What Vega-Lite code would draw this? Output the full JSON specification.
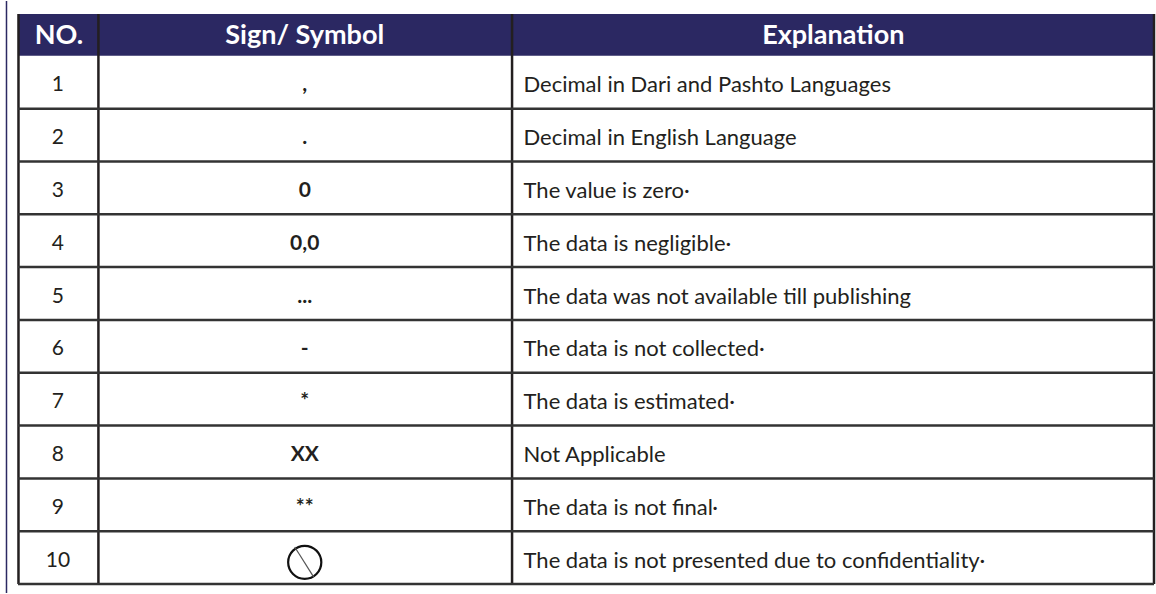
{"$schema":"https://vega.github.io/schema/vega-lite/v6.json","autosize":{"type":"fit","contains":"padding"},"width":1156,"height":594,"padding":0,"background":"white","config":{"view":{"stroke":null},"axis":{"disable":true},"text":{"font":"Lato"}},
"datasets":{"rows":[
{"no":1,"sign":",","explanation":"Decimal in Dari and Pashto Languages"},
{"no":2,"sign":".","explanation":"Decimal in English Language"},
{"no":3,"sign":"0","explanation":"The value is zero·"},
{"no":4,"sign":"0,0","explanation":"The data is negligible·"},
{"no":5,"sign":"...","explanation":"The data was not available till publishing"},
{"no":6,"sign":"-","explanation":"The data is not collected·"},
{"no":7,"sign":"*","explanation":"The data is estimated·"},
{"no":8,"sign":"XX","explanation":"Not Applicable"},
{"no":9,"sign":"**","explanation":"The data is not final·"},
{"no":10,"sign":"","explanation":"The data is not presented due to confidentiality·"}],
"heads":[{"label":"NO.","col":59},{"label":"Sign/ Symbol","col":305},{"label":"Explanation","col":834}],
"edges":[{"edge":1.5},{"edge":2.5},{"edge":3.5},{"edge":4.5},{"edge":5.5},{"edge":6.5},{"edge":7.5},{"edge":8.5},{"edge":9.5},{"edge":10.5}],
"cols":[{"col":18.5},{"col":98.5},{"col":512.5},{"col":1155}]},
"layer":[
{"data":{"values":[{"col":6.5,"a":-0.538,"b":10.67}]},"mark":{"type":"rule","color":"#2b2862","strokeWidth":1.5},"encoding":{"x":{"field":"col","type":"quantitative","scale":{"domain":[0,1156],"nice":false}},"y":{"field":"a","type":"quantitative","scale":{"domain":[-0.538,10.67],"reverse":true,"nice":false}},"y2":{"field":"b"}}},
{"data":{"values":[{"a":18,"b":1155,"t":-0.292,"u":0.5}]},"mark":{"type":"rect","color":"#2b2862"},"encoding":{"x":{"field":"a","type":"quantitative"},"x2":{"field":"b"},"y":{"field":"t","type":"quantitative"},"y2":{"field":"u"}}},
{"data":{"name":"cols"},"transform":[{"calculate":"-0.292","as":"a"},{"calculate":"10.5","as":"b"}],"mark":{"type":"rule","color":"#231f20","strokeWidth":2.5},"encoding":{"x":{"field":"col","type":"quantitative"},"y":{"field":"a","type":"quantitative"},"y2":{"field":"b"}}},
{"data":{"name":"edges"},"transform":[{"calculate":"18","as":"a"},{"calculate":"1155","as":"b"}],"mark":{"type":"rule","color":"#333333","strokeWidth":2.5},"encoding":{"y":{"field":"edge","type":"quantitative"},"x":{"field":"a","type":"quantitative"},"x2":{"field":"b"}}},
{"data":{"name":"heads"},"transform":[{"calculate":"0.13","as":"r"}],"mark":{"type":"text","color":"white","fontWeight":"bold","fontSize":27,"align":"center","baseline":"middle"},"encoding":{"x":{"field":"col","type":"quantitative"},"y":{"field":"r","type":"quantitative"},"text":{"field":"label"}}},
{"data":{"name":"rows"},"transform":[{"calculate":"58","as":"c"}],"mark":{"type":"text","color":"#231f20","fontSize":21,"align":"center","baseline":"middle","dy":3},"encoding":{"x":{"field":"c","type":"quantitative"},"y":{"field":"no","type":"quantitative"},"text":{"field":"no"}}},
{"data":{"name":"rows"},"transform":[{"calculate":"305","as":"c"}],"mark":{"type":"text","color":"#231f20","fontSize":21,"fontWeight":"bold","align":"center","baseline":"middle","dy":3},"encoding":{"x":{"field":"c","type":"quantitative"},"y":{"field":"no","type":"quantitative"},"text":{"field":"sign"}}},
{"data":{"name":"rows"},"transform":[{"calculate":"524","as":"c"}],"mark":{"type":"text","color":"#231f20","fontSize":22,"align":"left","baseline":"middle","dy":3},"encoding":{"x":{"field":"c","type":"quantitative"},"y":{"field":"no","type":"quantitative"},"text":{"field":"explanation"}}},
{"data":{"values":[{"c":305,"r":10.09}]},"mark":{"type":"point","shape":"circle","size":1100,"stroke":"#111111","strokeWidth":2.2,"fill":null,"opacity":1},"encoding":{"x":{"field":"c","type":"quantitative"},"y":{"field":"r","type":"quantitative"}}},
{"data":{"values":[{"a":295,"b":314,"t":9.8,"u":10.37}]},"mark":{"type":"rule","color":"#555555","strokeWidth":1.2},"encoding":{"x":{"field":"a","type":"quantitative"},"x2":{"field":"b"},"y":{"field":"t","type":"quantitative"},"y2":{"field":"u"}}}
],"resolve":{"scale":{"x":"shared","y":"shared"}}}
